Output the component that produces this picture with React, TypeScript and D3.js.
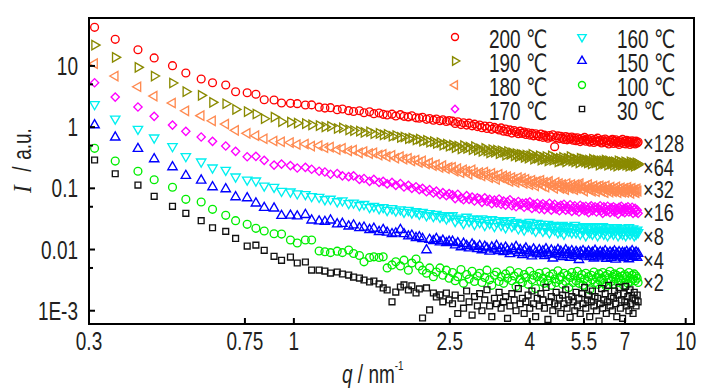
import React from "react";
import * as d3 from "d3";

// q grid (nm^-1)
const q = [0.31,0.35,0.40,0.44,0.49,0.53,0.58,0.62,0.67,0.71,
0.76,0.80,0.84,0.89,0.93,0.98,1.02,1.07,1.11,1.16,
1.20,1.24,1.29,1.33,1.38,1.42,1.47,1.51,1.56,1.60,
1.65,1.69,1.73,1.78,1.82,1.87,1.91,1.96,2.00,2.05,
2.09,2.13,2.18,2.22,2.27,2.31,2.36,2.40,2.45,2.49,
2.54,2.58,2.62,2.67,2.71,2.76,2.80,2.85,2.89,2.94,
2.98,3.02,3.07,3.11,3.16,3.20,3.25,3.29,3.34,3.38,
3.43,3.47,3.51,3.56,3.60,3.65,3.69,3.74,3.78,3.83,
3.87,3.91,3.96,4.00,4.05,4.09,4.14,4.18,4.23,4.27,
4.32,4.36,4.40,4.45,4.49,4.54,4.58,4.63,4.67,4.72,
4.76,4.80,4.85,4.89,4.94,4.98,5.03,5.07,5.12,5.16,
5.21,5.25,5.29,5.34,5.38,5.43,5.47,5.52,5.56,5.61,
5.65,5.69,5.74,5.78,5.83,5.87,5.92,5.96,6.01,6.05,
6.10,6.14,6.18,6.23,6.27,6.32,6.36,6.41,6.45,6.50,
6.54,6.58,6.63,6.67,6.72,6.76,6.81,6.85,6.90,6.94,
6.99,7.03,7.07,7.12,7.16,7.21,7.25,7.30,7.34,7.39,
7.43,7.47,7.52,7.56];

const I200 = [42.7,27.2,18.4,13.5,10.1,7.66,6.11,5.31,4.88,3.79,3.65,3.44,2.80,2.78,2.48,
2.45,2.42,2.30,2.31,2.12,2.05,2.08,1.93,1.98,1.86,1.80,1.85,1.72,1.78,1.66,1.70,1.62,1.58,1.63,1.52,
1.60,1.50,1.47,1.53,1.42,1.40,1.45,1.34,1.38,1.30,1.36,1.27,1.32,1.24,1.28,
1.25,1.15,1.22,1.10,1.18,1.08,1.16,1.05,1.12,1.02,
1.08,0.98,1.04,0.95,1.03,0.92,0.99,0.94,0.90,0.97,
0.86,0.93,0.84,0.90,0.80,0.88,0.83,0.78,0.86,0.79,
0.83,0.76,0.81,0.74,0.79,0.72,0.78,0.73,0.70,0.77,
0.68,0.74,0.70,0.66,0.73,0.69,0.75,0.48,0.67,0.72,
0.65,0.71,0.66,0.63,0.70,0.62,0.68,0.64,0.69,0.61,
0.66,0.60,0.67,0.63,0.58,0.65,0.61,0.68,0.59,0.64,
0.62,0.57,0.65,0.60,0.56,0.63,0.59,0.66,0.58,0.61,
0.55,0.62,0.58,0.64,0.56,0.60,0.53,0.61,0.57,0.63,
0.54,0.59,0.62,0.55,0.58,0.52,0.60,0.56,0.63,0.54,
0.58,0.53,0.61,0.56,0.59,0.52,0.57,0.60,0.54,0.58,
0.53,0.59,0.55,0.57];

const I190 = [21.9,13.8,9.49,6.84,5.26,3.79,3.31,2.54,2.41,1.95,1.79,1.64,1.37,1.46,1.23,
1.21,1.16,1.14,1.09,1.06,1.01,1.03,0.95,0.97,0.90,0.88,0.86,0.82,0.84,0.78,0.79,0.75,0.76,0.71,0.73,
0.68,0.69,0.65,0.66,0.62,0.64,0.59,0.61,0.57,0.58,0.54,0.56,0.51,0.53,0.49,
0.51,0.46,0.49,0.44,0.50,0.45,0.47,0.43,0.48,0.42,
0.44,0.40,0.45,0.41,0.38,0.43,0.39,0.42,0.37,0.41,
0.39,0.35,0.40,0.36,0.38,0.34,0.37,0.33,0.36,0.35,
0.32,0.35,0.31,0.34,0.36,0.30,0.33,0.31,0.34,0.29,
0.32,0.30,0.33,0.28,0.31,0.34,0.29,0.32,0.30,0.27,
0.31,0.28,0.32,0.29,0.27,0.31,0.30,0.33,0.28,0.30,
0.27,0.30,0.29,0.26,0.31,0.28,0.30,0.27,0.29,0.26,
0.29,0.27,0.25,0.30,0.28,0.26,0.29,0.27,0.24,0.28,
0.26,0.28,0.25,0.29,0.27,0.24,0.28,0.26,0.25,0.27,
0.24,0.27,0.26,0.23,0.28,0.25,0.27,0.24,0.26,0.25,
0.27,0.24,0.26,0.25,0.23,0.27,0.25,0.24,0.26,0.23,
0.25,0.26,0.24,0.25];

const I180 = [10.9,6.84,4.57,3.22,2.48,1.85,1.54,1.27,1.12,0.887,0.792,0.724,0.646,0.593,0.577,
0.56,0.52,0.53,0.49,0.50,0.46,0.47,0.43,0.45,0.41,0.42,0.38,0.40,0.37,0.38,0.35,0.36,0.33,0.345,0.31,
0.33,0.30,0.31,0.28,0.29,0.265,0.28,0.25,0.26,0.235,0.245,0.22,0.235,0.21,0.22,
0.22,0.19,0.21,0.18,0.20,0.19,0.17,0.20,0.18,0.17,
0.18,0.16,0.185,0.17,0.15,0.175,0.16,0.14,0.17,0.15,
0.16,0.14,0.155,0.13,0.15,0.14,0.125,0.15,0.13,0.145,
0.12,0.14,0.13,0.115,0.135,0.125,0.11,0.13,0.12,0.135,
0.11,0.125,0.105,0.12,0.13,0.11,0.115,0.10,0.125,0.11,
0.12,0.10,0.115,0.105,0.095,0.12,0.11,0.10,0.115,0.105,
0.095,0.115,0.10,0.11,0.12,0.097,0.105,0.09,0.11,0.10,
0.115,0.095,0.105,0.09,0.11,0.10,0.088,0.107,0.095,0.11,
0.09,0.105,0.097,0.085,0.11,0.093,0.10,0.087,0.105,0.095,
0.088,0.10,0.092,0.106,0.085,0.098,0.09,0.102,0.087,0.096,
0.10,0.086,0.094,0.104,0.089,0.097,0.083,0.10,0.092,0.088,
0.095,0.085,0.098,0.09];

const I170 = [5.32,3.10,2.13,1.50,1.08,0.854,0.689,0.586,0.491,0.402,0.328,0.333,0.287,0.240,0.249,
0.235,0.215,0.22,0.205,0.19,0.185,0.17,0.175,0.16,0.155,0.16,0.14,0.145,0.13,0.14,0.125,0.13,0.118,0.125,0.112,
0.12,0.105,0.112,0.10,0.106,0.095,0.10,0.088,0.095,0.084,0.09,0.079,0.085,0.076,0.082,
0.078,0.068,0.08,0.07,0.065,0.076,0.066,0.072,0.062,0.07,
0.067,0.059,0.07,0.061,0.066,0.056,0.064,0.058,0.067,0.055,
0.062,0.053,0.06,0.065,0.052,0.058,0.05,0.061,0.054,0.057,
0.049,0.058,0.052,0.06,0.047,0.055,0.05,0.057,0.046,0.053,
0.056,0.045,0.052,0.049,0.057,0.044,0.051,0.055,0.046,0.05,
0.043,0.053,0.048,0.055,0.044,0.05,0.046,0.054,0.042,0.049,
0.052,0.044,0.048,0.041,0.053,0.046,0.05,0.043,0.051,0.045,
0.04,0.049,0.052,0.043,0.047,0.05,0.041,0.048,0.045,0.052,
0.043,0.039,0.05,0.046,0.042,0.051,0.044,0.04,0.048,0.045,
0.05,0.041,0.047,0.043,0.038,0.049,0.045,0.051,0.042,0.046,
0.04,0.048,0.044,0.05,0.041,0.046,0.043,0.049,0.039,0.045,
0.047,0.041,0.044,0.039];

const I160 = [2.36,1.37,0.931,0.671,0.486,0.333,0.272,0.217,0.199,0.155,0.138,0.133,0.110,0.105,0.0903,
0.088,0.082,0.080,0.074,0.072,0.066,0.067,0.061,0.063,0.057,0.058,0.053,0.055,0.049,0.051,0.047,0.049,0.044,0.047,0.043,
0.045,0.041,0.044,0.040,0.042,0.038,0.041,0.036,0.039,0.035,0.038,0.034,0.036,0.032,0.035,
0.036,0.029,0.033,0.031,0.027,0.034,0.029,0.032,0.026,0.031,
0.028,0.032,0.025,0.03,0.027,0.031,0.024,0.028,0.03,0.025,
0.029,0.023,0.027,0.03,0.024,0.026,0.028,0.022,0.027,0.025,
0.021,0.026,0.024,0.028,0.022,0.025,0.02,0.027,0.023,0.026,
0.02,0.024,0.022,0.026,0.019,0.023,0.025,0.021,0.024,0.019,
0.023,0.02,0.025,0.018,0.022,0.024,0.02,0.023,0.019,0.022,
0.025,0.019,0.021,0.023,0.018,0.022,0.02,0.024,0.017,0.021,
0.023,0.019,0.022,0.018,0.024,0.02,0.021,0.017,0.023,0.019,
0.021,0.024,0.018,0.02,0.022,0.017,0.023,0.019,0.021,0.02,
0.018,0.022,0.02,0.023,0.017,0.021,0.019,0.022,0.018,0.02,
0.022,0.017,0.02,0.019,0.023,0.018,0.021,0.019,0.022,0.017,
0.02,0.018,0.021,0.019];

const I150 = [1.08,0.681,0.444,0.301,0.223,0.161,0.135,0.105,0.0975,0.0721,0.0695,0.0569,0.0482,0.0471,0.0357,
0.036,0.035,0.037,0.030,0.029,0.0285,0.030,0.026,0.0265,0.024,0.025,0.0225,0.023,0.021,0.022,0.0195,0.021,0.019,0.018,0.0185,
0.021,0.018,0.0165,0.017,0.0155,0.016,0.015,0.0098,0.0145,0.0138,0.015,0.0132,0.014,0.0128,0.0135,
0.0135,0.0118,0.0128,0.011,0.0125,0.0115,0.0105,0.0122,0.0112,0.0103,
0.0115,0.0098,0.0112,0.0105,0.0093,0.0109,0.0101,0.0115,0.0095,0.0104,
0.0092,0.0108,0.0097,0.0085,0.0103,0.0094,0.0111,0.0088,0.0099,0.0082,
0.0096,0.0105,0.0087,0.0093,0.0078,0.0101,0.009,0.0084,0.0098,0.0086,
0.0094,0.0079,0.0102,0.0088,0.0083,0.0097,0.0072,0.0091,0.0085,0.0099,
0.0081,0.0093,0.0076,0.0088,0.0098,0.0082,0.0089,0.0074,0.0095,0.0084,
0.0079,0.0092,0.0086,0.0068,0.009,0.0081,0.0095,0.0077,0.0087,0.0083,
0.0093,0.0076,0.0085,0.0089,0.0072,0.0096,0.008,0.0086,0.0075,0.0091,
0.0078,0.0088,0.0083,0.0095,0.0071,0.0085,0.0079,0.009,0.0074,0.0087,
0.0082,0.0094,0.0069,0.0086,0.0079,0.0091,0.0075,0.0084,0.0089,0.0073,
0.0087,0.0078,0.0092,0.0081,0.007,0.0088,0.0083,0.0095,0.0076,0.0085,
0.0079,0.009,0.0074,0.0086];

const I100 = [0.450,0.279,0.190,0.138,0.104,0.0661,0.0597,0.0454,0.0362,0.0296,0.0258,0.0222,0.0201,0.0181,0.0179,
0.0143,0.0128,0.0143,0.0143,0.00945,0.0092,0.0089,0.0094,0.0089,0.0098,0.0086,0.0080,0.0063,0.0074,0.0076,0.0074,0.0076,
0.0050,0.0056,0.0063,0.0054,0.0067,0.0046,0.0060,0.0070,0.0054,0.0046,0.0041,0.0050,0.0036,0.0043,0.0050,0.0038,0.0046,0.0034,
0.0042,0.0031,0.0036,0.0047,0.0028,0.0039,0.0033,0.0044,0.003,0.0037,
0.0041,0.0029,0.0035,0.0046,0.0032,0.0026,0.0038,0.0043,0.003,0.0036,
0.0028,0.004,0.0034,0.0045,0.0031,0.0037,0.0025,0.0042,0.0033,0.0029,
0.0039,0.0035,0.0027,0.0044,0.0032,0.0038,0.0023,0.0036,0.0041,0.003,
0.0034,0.0028,0.0043,0.0031,0.0037,0.0026,0.004,0.0033,0.0029,0.0045,
0.0032,0.0036,0.0027,0.0041,0.003,0.0038,0.0024,0.0035,0.0042,0.0029,
0.0037,0.0031,0.0044,0.0028,0.0034,0.0039,0.0026,0.0033,0.0041,0.003,
0.0036,0.0022,0.0038,0.0032,0.0043,0.0029,0.0035,0.0027,0.004,0.0031,
0.0034,0.0042,0.0028,0.0037,0.0025,0.0039,0.0032,0.0044,0.003,0.0036,
0.0027,0.004,0.0033,0.0038,0.0029,0.0035,0.0043,0.0031,0.0037,0.0026,
0.0039,0.0032,0.0036,0.0028,0.0042,0.0034,0.003,0.0038,0.0033,0.004,
0.0031,0.0037,0.0034,0.0029];

const I30 = [0.290,0.173,0.113,0.074,0.0508,0.039,0.0296,0.0227,0.0198,0.0152,0.0114,0.0118,0.0097,0.00774,0.00666,
0.00754,0.00602,0.00625,0.00462,0.00462,0.00445,0.00413,0.00429,0.00398,0.00383,
0.00355,0.00342,0.00318,0.00295,0.00306,0.00274,0.00236,0.00218,0.0014,0.00202,
0.00244,0.00264,0.00218,0.00255,0.00195,0.00227,0.00076,0.00236,0.00103,0.00195,
0.00168,0.00181,0.0014,0.00195,0.0015,
0.0013,0.0018,0.0009,0.0016,0.0011,0.0021,0.0014,0.00085,0.0017,0.0012,
0.0019,0.001,0.0015,0.0022,0.0012,0.0008,0.0016,0.0013,0.002,0.0011,
0.0014,0.0017,0.00075,0.0012,0.0019,0.0015,0.001,0.0023,0.0013,0.0016,
0.0009,0.0014,0.0018,0.0011,0.0021,0.0013,0.0008,0.0016,0.0012,0.0019,
0.0015,0.0011,0.0024,0.00072,0.0014,0.0017,0.001,0.0013,0.002,0.0012,
0.0016,0.0009,0.0018,0.0013,0.0022,0.0011,0.0015,0.00078,0.0017,0.0014,
0.001,0.002,0.0012,0.0016,0.0009,0.0019,0.0013,0.0024,0.0011,0.0015,
0.0018,0.0008,0.0014,0.0021,0.0012,0.0017,0.001,0.0016,0.00068,0.0013,
0.0023,0.0011,0.0015,0.0019,0.0009,0.0014,0.0026,0.0012,0.0017,0.001,
0.0016,0.0021,0.0013,0.0008,0.0018,0.0024,0.0011,0.0015,0.00075,0.0019,
0.0014,0.0025,0.0012,0.0017,0.001,0.0022,0.0013,0.0016,0.0009,0.002,
0.0015,0.0012,0.0018,0.0014];

const seriesNames = ["200 ℃","190 ℃","180 ℃","170 ℃","160 ℃","150 ℃","100 ℃","30 ℃"];
const factorLabels = ["×128","×64","×32","×16","×8","×4","×2"];
const xTickValues = [0.3,0.75,1,2.5,4,5.5,7,10];
const xTickLabels = ["0.3","0.75","1","2.5","4","5.5","7","10"];
const yMajorValues = [0.001,0.01,0.1,1,10];
const yMajorLabels = ["1E-3","0.01","0.1","1","10"];
const yMinorValues = [0.005,0.05,0.5,5];

// styles / layout (not data)
const seriesData = [I200,I190,I180,I170,I160,I150,I100,I30];
const colors = ["#ff0000","#8a8a00","#ff8a50","#ff00ff","#00f0f0","#0000ff","#00ee00","#111111"];
const shapes = ["circle","triR","triL","diamond","triD","triU","circle","square"];
const factorY = [143,167,189,212,236,260,282];

const W = 728, H = 390;
const L = 89, R = 694, T = 18, B = 324;
const SANS = "'Liberation Sans', Arial, 'DejaVu Sans', sans-serif";
const SX = 0.76;
const INK = "#231f20";

const x = d3.scaleLog().domain([0.3, 10.5]).range([L, R]);
const y = d3.scaleLog().domain([6.07e-4, 60.7]).range([B, T]);

function paths(k: number) {
  return {
    circle: d3.symbol(d3.symbolCircle, 48 * k)() as string,
    tri: d3.symbol(d3.symbolTriangle, 38 * k)() as string,
    square: d3.symbol(d3.symbolSquare, 34 * k)() as string,
    diamond: d3.symbol(d3.symbolSquare, 34 * k)() as string,
  };
}
const dataPaths = paths(1);
const legendPaths = paths(0.8);

function shapeInfo(s: string, p: any): { d: string; rot: number } {
  switch (s) {
    case "circle": return { d: p.circle, rot: 0 };
    case "triR": return { d: p.tri, rot: 90 };
    case "triL": return { d: p.tri, rot: -90 };
    case "triD": return { d: p.tri, rot: 180 };
    case "triU": return { d: p.tri, rot: 0 };
    case "diamond": return { d: p.diamond, rot: 45 };
    default: return { d: p.square, rot: 0 };
  }
}

function NText(props: { x: number; y: number; anchor?: string; size?: number; children: any; dy?: string }) {
  const { x: tx, y: ty, anchor = "start", size = 25, children, dy = "0.36em" } = props;
  return (
    <text transform={`translate(${tx},${ty}) scale(${SX},1)`} textAnchor={anchor as any}
      fontSize={size} dy={dy} fill={INK} fontFamily={SANS}>{children}</text>
  );
}

export default function App() {
  const legendRows = [37, 61, 85, 109];
  return (
    <svg width={W} height={H} style={{ position: "absolute", left: 0, top: 0, background: "#fff" }}>
      <rect x={0} y={0} width={W} height={H} fill="#ffffff" />
      {/* data */}
      {seriesData.map((vals, si) => {
        const { d, rot } = shapeInfo(shapes[si], dataPaths);
        return (
          <g key={si} fill="none" stroke={colors[si]} strokeWidth={1.35}>
            {q.map((qq, i) => {
              const v = vals[i];
              if (v === undefined) return null;
              return <path key={i} d={d} transform={`translate(${x(qq).toFixed(2)},${y(v).toFixed(2)}) rotate(${rot})`} />;
            })}
          </g>
        );
      })}
      {/* frame */}
      <rect x={L} y={T} width={R - L} height={B - T} fill="none" stroke="#000" strokeWidth={2} />
      {/* y ticks */}
      {yMajorValues.map((v, i) => (
        <g key={"ym" + i}>
          <line x1={L} x2={L + 6} y1={y(v)} y2={y(v)} stroke="#000" strokeWidth={2} />
          <NText x={78} y={y(v)} anchor="end">{yMajorLabels[i]}</NText>
        </g>
      ))}
      {yMinorValues.map((v, i) => (
        <line key={"yn" + i} x1={L} x2={L + 4} y1={y(v)} y2={y(v)} stroke="#000" strokeWidth={2} />
      ))}
      {/* x ticks */}
      {xTickValues.map((v, i) => (
        <g key={"xt" + i}>
          {i > 0 && <line x1={x(v)} x2={x(v)} y1={B} y2={B - 6} stroke="#000" strokeWidth={2} />}
          <NText x={x(v)} y={350} anchor="middle" dy="0">{xTickLabels[i]}</NText>
        </g>
      ))}
      {/* axis titles */}
      <text transform={`translate(342,383) scale(${SX},1)`} fontSize={25} fill={INK} fontFamily={SANS}>
        <tspan fontStyle="italic">q</tspan>
        <tspan> / nm</tspan>
        <tspan fontSize={13} dy={-13}>-1</tspan>
      </text>
      <text transform={`translate(31,189) rotate(-90) scale(0.9,1)`} fontSize={26} fill={INK}
        fontFamily="'Liberation Serif', 'Times New Roman', serif" fontStyle="italic" textAnchor="middle">I</text>
      <text transform={`translate(31,169) rotate(-90) scale(${SX},1)`} fontSize={25} fill={INK}
        fontFamily={SANS} textAnchor="middle">/</text>
      <text transform={`translate(31,144) rotate(-90) scale(${SX},1)`} fontSize={25} fill={INK}
        fontFamily={SANS} textAnchor="middle">a.u.</text>
      {/* legend */}
      {seriesNames.map((name, si) => {
        const col = si < 4 ? 0 : 1;
        const row = si % 4;
        const sx = col === 0 ? 455 : 582;
        const tx = col === 0 ? 489 : 617;
        const ry = legendRows[row];
        const { d, rot } = shapeInfo(shapes[si], legendPaths);
        return (
          <g key={"lg" + si}>
            <path d={d} transform={`translate(${sx},${ry}) rotate(${rot})`} fill="none" stroke={colors[si]} strokeWidth={1.4} />
            <NText x={tx} y={ry + 2}>{name}</NText>
          </g>
        );
      })}
      {/* factor labels */}
      {factorLabels.map((f, i) => (
        <NText key={"f" + i} x={643} y={factorY[i]} size={24}>{f}</NText>
      ))}
    </svg>
  );
}
